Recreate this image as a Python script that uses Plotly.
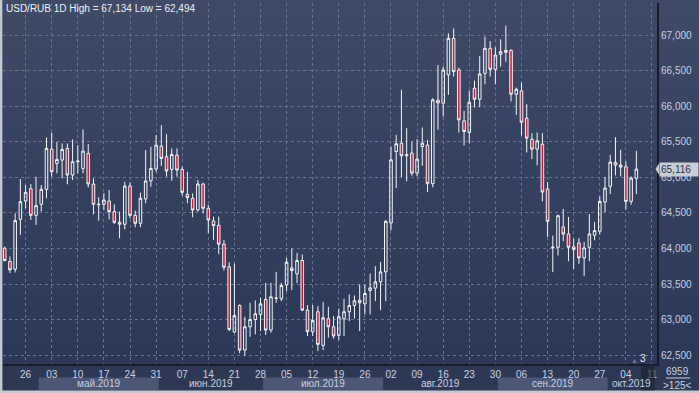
import plotly.graph_objects as go
import pandas as pd

# ---------------- data ----------------
start_date = "2019-04-22"
axis_end_date = "2019-10-11"

opens = [64005, 63818, 63710, 64411, 64668, 64841, 64467, 64622, 64832, 65397,
         65196, 65243, 65407, 65033, 65220, 65126, 65337, 64907, 64615, 64622,
         64668, 64519, 64369, 64341, 64879, 64467, 64355, 64696, 64953, 65117,
         65439, 65290, 65112, 65313, 65112, 64762, 64706, 64542, 64907, 64565,
         64388, 64327, 64061, 63743, 62827, 63201, 62574, 62901, 63004, 63074,
         63285, 62855, 63300, 63294, 63490, 63729, 63645, 63832, 63135, 62831,
         63112, 62640, 63014, 62901, 62780, 63014, 63112, 63201, 63275, 63224,
         63411, 63444, 63532, 63673, 64360, 65364, 65481, 65303, 65341, 65060,
         65434, 65453, 64911, 66084, 66042, 66439, 66953, 66509, 65794, 65631,
         66252, 66098, 66462, 66813, 66518, 66729, 66757, 66785, 66168, 66215,
         65831, 65537, 65397, 65467, 64836, 64009, 64018, 64303, 64205, 64023,
         64079, 63869, 64018, 64187, 64243, 64654, 64874, 65210, 65173, 65149,
         64663, 64986]
highs = [64028, 63888, 64495, 64977, 64893, 64907, 65009, 64893, 65561, 65626,
         65500, 65477, 65477, 65533, 65453, 65673, 65467, 64986, 64720, 64776,
         64823, 64622, 64519, 64939, 64930, 64533, 64785, 65383, 65430, 65594,
         65734, 65608, 65407, 65407, 65150, 65079, 64776, 64963, 64925, 64612,
         64449, 64449, 64122, 63808, 63789, 63215, 63042, 63238, 63271, 63308,
         63518, 63518, 63673, 63518, 63869, 64000, 63939, 63916, 63205, 63205,
         63191, 63252, 63182, 63051, 63154, 63294, 63355, 63341, 63495, 63495,
         63649, 63752, 63813, 64397, 65434, 65598, 66229, 65691, 65504, 65537,
         65701, 65528, 66112, 66579, 66556, 67023, 67093, 66542, 65934, 66219,
         66360, 66705, 66976, 66916, 66827, 66939, 67134, 66799, 66261, 66331,
         66028, 65621, 65631, 65621, 64934, 64182, 64476, 64556, 64444, 64140,
         64149, 64093, 64486, 64374, 64733, 65004, 65317, 65565, 65388, 65224,
         65014, 65374]
lows = [63818, 63654, 63664, 64192, 64565, 64402, 64332, 64519, 64706, 65009,
        65056, 64986, 64902, 64963, 65056, 65056, 64860, 64481, 64393, 64542,
        64411, 64346, 64145, 64271, 64425, 64299, 64299, 64636, 64869, 65079,
        65159, 65009, 64953, 65009, 64743, 64636, 64439, 64519, 64495, 64215,
        64122, 63921, 63692, 62841, 62817, 62528, 62494, 62761, 62794, 62841,
        62785, 62817, 63238, 63261, 63402, 63416, 63518, 63121, 62771, 62771,
        62560, 62574, 62747, 62733, 62715, 62771, 62981, 63018, 62841, 63074,
        63074, 63261, 63135, 63261, 64257, 64850, 65004, 64944, 65023, 65014,
        65163, 64794, 64860, 65668, 65855, 66159, 66416, 65631, 65448, 65481,
        65981, 65986, 66308, 66416, 66308, 66556, 66626, 66065, 65878, 65588,
        65350, 65257, 65168, 64663, 64163, 63668, 63902, 64102, 63822, 63715,
        63785, 63612, 63822, 64117, 64196, 64514, 64766, 65028, 65014, 64546,
        64617, 64766]
closes = [63832, 63701, 64393, 64659, 64790, 64467, 64603, 64832, 65407, 65079,
          65252, 65393, 65033, 65220, 65229, 65369, 64907, 64622, 64622, 64682,
          64519, 64369, 64341, 64879, 64467, 64355, 64706, 64949, 65126, 65453,
          65266, 65089, 65322, 65103, 64790, 64715, 64542, 64907, 64565, 64402,
          64322, 64061, 63738, 62864, 63060, 62574, 62901, 63004, 63084, 63224,
          62855, 63322, 63304, 63481, 63808, 63691, 63832, 63135, 62831, 62990,
          62654, 63028, 62901, 62771, 63042, 63112, 63201, 63266, 63238, 63369,
          63448, 63532, 63673, 64383, 65247, 65472, 65303, 65318, 65060, 65257,
          65481, 64911, 66089, 66046, 66509, 66953, 66486, 65808, 65645, 66056,
          66098, 66453, 66813, 66518, 66719, 66766, 66785, 66168, 66238, 65775,
          65551, 65397, 65514, 64794, 64383, 64018, 64462, 64205, 64018, 63986,
          63869, 64009, 64205, 64252, 64663, 64850, 65215, 65173, 65145, 64663,
          64990, 65116]

price_ticks = [62500, 63000, 63500, 64000, 64500, 65000, 65500, 66000, 66500, 67000]
month_names = {4: "апр.2019", 5: "май.2019", 6: "июн.2019", 7: "июл.2019",
               8: "авг.2019", 9: "сен.2019", 10: "окт.2019"}
title_text = "USD/RUB 1D High = 67,134 Low = 62,494"
last_price_text = "65,116"

# ---------------- derived axis helpers ----------------
axis_days = pd.bdate_range(start_date, axis_end_date)
n = len(opens)
xs = list(range(n))
fri_idx = [i for i, d in enumerate(axis_days) if d.weekday() == 4]
fri_txt = [axis_days[i].strftime("%d") for i in fri_idx]

X0, X1 = -0.33, 124.96
Y0, Y1 = 62378, 67450

# ---------------- figure ----------------
fig = go.Figure()
fig.add_trace(go.Candlestick(
    x=xs, open=opens, high=highs, low=lows, close=closes,
    increasing=dict(line=dict(color="#f4f6fa", width=1), fillcolor="rgba(0,0,0,0)"),
    decreasing=dict(line=dict(color="#f4f6fa", width=1), fillcolor="#c81e3e"),
    whiskerwidth=0, showlegend=False, hoverinfo="skip"))

shapes = []
# background gradient (plot + right price panel)
top_c = (62, 74, 102)
bot_c = (43, 56, 87)
nb = 40
for k in range(nb):
    t = k / (nb - 1)
    c = tuple(round(top_c[j] + (bot_c[j] - top_c[j]) * t) for j in range(3))
    y_hi = 1.01 - k * (1.01 / nb)
    y_lo = 1.01 - (k + 1) * (1.01 / nb)
    shapes.append(dict(type="rect", xref="paper", yref="paper", x0=0, x1=1.07,
                       y0=y_lo, y1=y_hi + 0.002, fillcolor="rgb(%d,%d,%d)" % c,
                       line=dict(width=0), layer="below"))

PW = 654.0
PH = 361.0
def px(page_x):
    return (page_x - 3) / PW
def py(page_y):
    return (364 - page_y) / PH

months_order = []
for i, d in enumerate(axis_days):
    if not months_order or months_order[-1][0] != d.month:
        months_order.append([d.month, i, i])
    else:
        months_order[-1][2] = i

annotations = []
for k, (m, a, b) in enumerate(months_order):
    lo = max(a - 0.5, X0)
    hi = min(b + 0.5, X1)
    if m in (5, 7, 9):
        shapes.append(dict(type="rect", xref="x", yref="paper", x0=lo, x1=hi,
                           y0=py(390), y1=py(377.5), fillcolor="#4b5774",
                           line=dict(width=0), layer="below"))
    if m != 4:
        annotations.append(dict(x=(lo + hi) / 2, y=py(384), xref="x", yref="paper",
                                text=month_names[m], showarrow=False,
                                font=dict(size=10, color="#c9d1e0"),
                                xanchor="center", yanchor="middle"))

# light outer frame strips
frame = "#c4c8d0"
shapes.append(dict(type="rect", xref="paper", yref="paper", x0=px(0), x1=px(2.4),
                   y0=py(393), y1=py(0), fillcolor=frame, line=dict(width=0), layer="above"))
shapes.append(dict(type="rect", xref="paper", yref="paper", x0=px(0), x1=px(699),
                   y0=py(393), y1=py(390.5), fillcolor=frame, line=dict(width=0), layer="above"))
# dark overlay near right bottom
shapes.append(dict(type="rect", xref="paper", yref="paper", x0=px(641), x1=px(655),
                   y0=py(390.5), y1=py(364.5), fillcolor="rgba(28,35,52,0.65)",
                   line=dict(width=0), layer="above"))
# line between 6959 and >125<
shapes.append(dict(type="line", xref="paper", yref="paper", x0=px(666), x1=px(690),
                   y0=py(378), y1=py(378), line=dict(color="#c9d1e0", width=1), layer="above"))
# pointer of last price label
shapes.append(dict(type="path", xref="paper", yref="y",
                   path="M %f,%f L %f,%f L %f,%f Z" % (px(655.5), closes[-1],
                                                       px(659), closes[-1] + 80,
                                                       px(659), closes[-1] - 80),
                   fillcolor="#c9cdd6", line=dict(width=0), layer="above"))

annotations += [
    dict(x=0, y=1, xref="paper", yref="paper", xanchor="left", yanchor="top",
         xshift=1, yshift=2, text=title_text, showarrow=False,
         font=dict(size=10, color="#eef1f6")),
    dict(x=1, y=closes[-1], xref="paper", yref="y", xanchor="left", yanchor="middle",
         xshift=1.5, text=last_price_text, showarrow=False, bgcolor="#c9cdd6",
         borderpad=1, font=dict(size=10, color="#26304a"), width=36, align="left"),
    dict(x=px(677), y=py(371.5), xref="paper", yref="paper", text="6959",
         xanchor="center", yanchor="middle",
         showarrow=False, font=dict(size=10, color="#c9d1e0")),
    dict(x=px(677), y=py(385), xref="paper", yref="paper", text="&gt;125&lt;",
         xanchor="center", yanchor="middle",
         showarrow=False, font=dict(size=10, color="#c9d1e0")),
    dict(x=px(643), y=py(358), xref="paper", yref="paper", text="3",
         xanchor="center", yanchor="middle",
         showarrow=False, font=dict(size=10, color="#e6e9f0")),
    dict(x=px(634), y=py(360), xref="paper", yref="paper", text="▲",
         xanchor="center", yanchor="middle",
         showarrow=False, font=dict(size=7, color="#6c7892")),
]

grid_c = "#67758f"
fig.update_layout(
    width=699, height=393,
    margin=dict(l=3, r=42, t=3, b=29),
    paper_bgcolor="#2d3954",
    plot_bgcolor="rgba(0,0,0,0)",
    font=dict(family="Liberation Sans, Arial, sans-serif", size=10, color="#c9d1e0"),
    showlegend=False,
    shapes=shapes,
    annotations=annotations,
    xaxis=dict(range=[X0, X1], tickmode="array", tickvals=fri_idx, ticktext=fri_txt,
               showgrid=True, gridcolor=grid_c, griddash="3px,3px", gridwidth=1,
               zeroline=False, showline=True, linecolor="#161c2a", linewidth=2,
               ticks="", tickfont=dict(size=10, color="#c9d1e0"),
               rangeslider=dict(visible=False), fixedrange=True),
    yaxis=dict(range=[Y0, Y1], side="right", tickmode="array", tickvals=price_ticks,
               ticktext=["{:,}".format(v) for v in price_ticks],
               showgrid=True, gridcolor=grid_c, griddash="3px,3px", gridwidth=1,
               zeroline=False, showline=True, linecolor="#161c2a", linewidth=2,
               ticks="", tickfont=dict(size=10, color="#c9d1e0"), fixedrange=True),
)

fig.write_html("out.html", config={"displayModeBar": False},
               post_script="document.body.style.margin='0';document.body.style.overflow='hidden';")
